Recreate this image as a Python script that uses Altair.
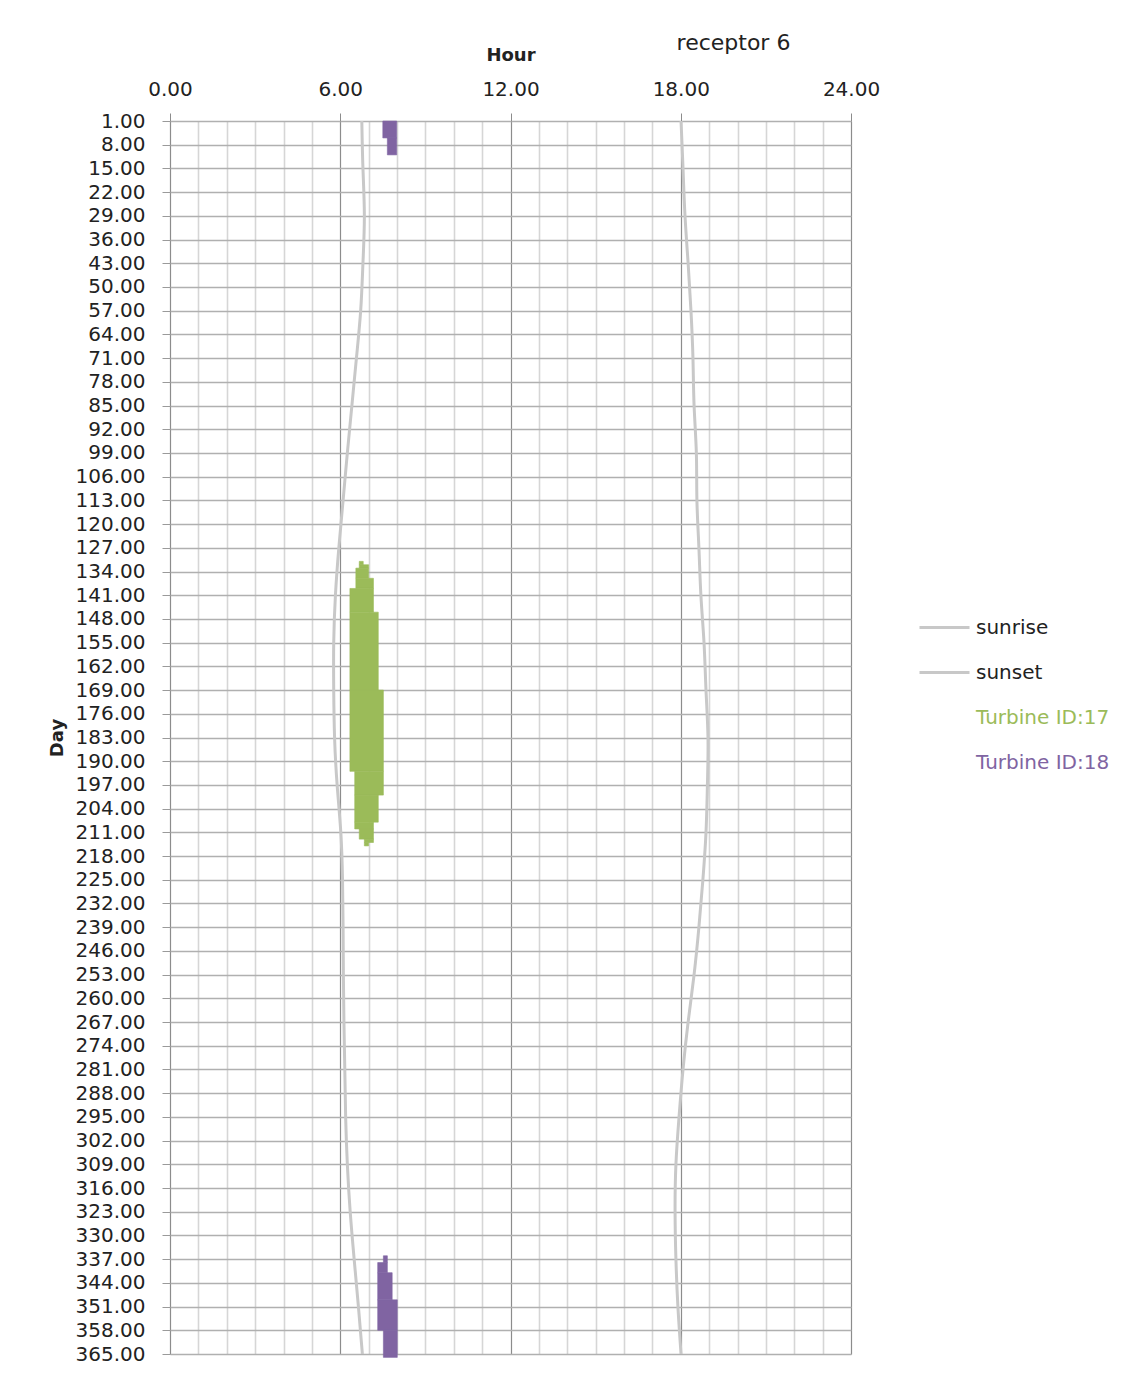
import altair as alt
import pandas as pd

# ---- data ----
sun_days = [1, 15, 29, 43, 57, 71, 85, 99, 113, 127, 141, 155, 169, 183,
            197, 211, 225, 239, 253, 267, 281, 295, 309, 323, 337, 351, 365]
sunrise_hours = [6.76, 6.80, 6.85, 6.80, 6.72, 6.57, 6.41, 6.25, 6.10, 5.95,
                 5.83, 5.77, 5.77, 5.80, 5.89, 6.02, 6.08, 6.10, 6.11, 6.13,
                 6.16, 6.19, 6.25, 6.35, 6.49, 6.64, 6.78]
sunset_hours = [18.01, 18.08, 18.15, 18.26, 18.36, 18.43, 18.47, 18.55, 18.57,
                18.64, 18.71, 18.82, 18.89, 18.96, 18.94, 18.89, 18.78, 18.64,
                18.47, 18.26, 18.08, 17.94, 17.83, 17.80, 17.83, 17.90, 18.01]

# Turbine ID:17 shadow blocks
t17_day_from = [131, 132, 133, 136, 139, 146, 169, 193, 200, 208, 210, 213, 214]
t17_day_to = [132, 133, 136, 139, 146, 169, 193, 200, 208, 210, 213, 214, 215]
t17_hour_from = [6.67, 6.67, 6.55, 6.55, 6.34, 6.34, 6.34, 6.51, 6.51, 6.51, 6.67, 6.85, 6.85]
t17_hour_to = [6.81, 7.00, 7.00, 7.17, 7.17, 7.34, 7.52, 7.52, 7.34, 7.17, 7.17, 7.17, 7.00]

# Turbine ID:18 shadow blocks
t18_day_from = [1, 6, 336, 338, 341, 349, 358]
t18_day_to = [6, 11, 338, 341, 349, 358, 366]
t18_hour_from = [7.50, 7.66, 7.52, 7.32, 7.32, 7.32, 7.52]
t18_hour_to = [7.99, 7.99, 7.66, 7.66, 7.83, 8.01, 8.01]

series_names = ["sunrise", "sunset", "Turbine ID:17", "Turbine ID:18"]
series_colors = ["#c8c8c8", "#c8c8c8", "#9bbb59", "#8064a2"]

hour_ticks = list(range(0, 25))
day_ticks = list(range(1, 366, 7))

# ---- tables ----
lines = pd.DataFrame({
    "series": ["sunrise"] * len(sun_days) + ["sunset"] * len(sun_days),
    "day": sun_days + sun_days,
    "hour": sunrise_hours + sunset_hours,
})
blocks = pd.DataFrame({
    "series": ["Turbine ID:17"] * len(t17_day_from) + ["Turbine ID:18"] * len(t18_day_from),
    "d0": t17_day_from + t18_day_from,
    "d1": t17_day_to + t18_day_to,
    "h0": t17_hour_from + t18_hour_from,
    "h1": t17_hour_to + t18_hour_to,
})

FONT = "DejaVu Sans"
TXT = "#222222"

x_axis = alt.Axis(
    orient="top", values=hour_ticks, format=".2f", title="Hour",
    labelExpr="datum.value % 6 == 0 ? datum.label : ''",
    labelFont=FONT, labelFontSize=20, labelColor=TXT, labelPadding=14,
    labelFlush=False, labelOverlap=False,
    titleFont=FONT, titleFontSize=18, titleFontWeight="bold", titleColor=TXT,
    titlePadding=15,
    domain=False, tickSize=8, tickColor="#8c8c8c",
    tickOpacity={"condition": {"test": "datum.value % 6 == 0", "value": 1}, "value": 0},
    grid=True,
    gridColor={"condition": {"test": "datum.value % 6 == 0", "value": "#8c8c8c"}, "value": "#d6d6d6"},
    gridWidth={"condition": {"test": "datum.value % 6 == 0", "value": 1.2}, "value": 1.6},
)
y_axis = alt.Axis(
    orient="left", values=day_ticks, format=".2f", title="Day",
    labelFont=FONT, labelFontSize=20, labelColor=TXT, labelPadding=17,
    labelFlush=False, labelOverlap=False,
    titleFont=FONT, titleFontSize=18, titleFontWeight="bold", titleColor=TXT,
    titlePadding=9,
    domain=False, tickSize=8, tickColor="#9a9a9a",
    grid=True, gridColor="#b0b0b0", gridWidth=1.6,
)

x_scale = alt.Scale(domain=[0, 24], nice=False, zero=False)
y_scale = alt.Scale(domain=[1, 365], nice=False, zero=False, reverse=True)
c_scale = alt.Scale(domain=series_names, range=series_colors)

color = alt.Color(
    "series:N",
    scale=c_scale,
    legend=alt.Legend(
        title=None, orient="none", legendX=748, legendY=484,
        symbolType="stroke", symbolSize=2500, symbolStrokeWidth=3,
        symbolOpacity=alt.expr("indexof(datum.value, 'Turbine') >= 0 ? 0 : 1"),
        labelColor=alt.expr(
            "datum.value == 'Turbine ID:17' ? '#9bbb59' : "
            "(datum.value == 'Turbine ID:18' ? '#8064a2' : '#222222')"
        ),
        labelFont=FONT, labelFontSize=20, labelOffset=5,
        clipHeight=45, rowPadding=0, padding=0,
    ),
)

line_layer = alt.Chart(lines).mark_line(strokeWidth=3, interpolate="natural").encode(
    x=alt.X("hour:Q", scale=x_scale, axis=x_axis),
    y=alt.Y("day:Q", scale=y_scale, axis=y_axis),
    order=alt.Order("day:Q"),
    color=color,
)

rect_layer = alt.Chart(blocks).mark_rect(strokeWidth=0.6).encode(
    x=alt.X("h0:Q", scale=x_scale, axis=x_axis),
    x2="h1:Q",
    y=alt.Y("d0:Q", scale=y_scale, axis=y_axis),
    y2="d1:Q",
    color=color,
    stroke=alt.Stroke("series:N", scale=c_scale, legend=None),
)

chart = alt.layer(line_layer, rect_layer).properties(
    width=681, height=1233,
    autosize=alt.AutoSizeParams(type="none"),
    padding={"left": 170, "top": 121, "right": 277, "bottom": 24},
    title=alt.TitleParams(
        "receptor 6", anchor="middle", dx=223, dy=13,
        font=FONT, fontSize=22, fontWeight="normal", color=TXT,
    ),
).configure_view(stroke=None).configure(background="white")

chart.save("out.html", embed_options={"renderer": "svg", "actions": False})
